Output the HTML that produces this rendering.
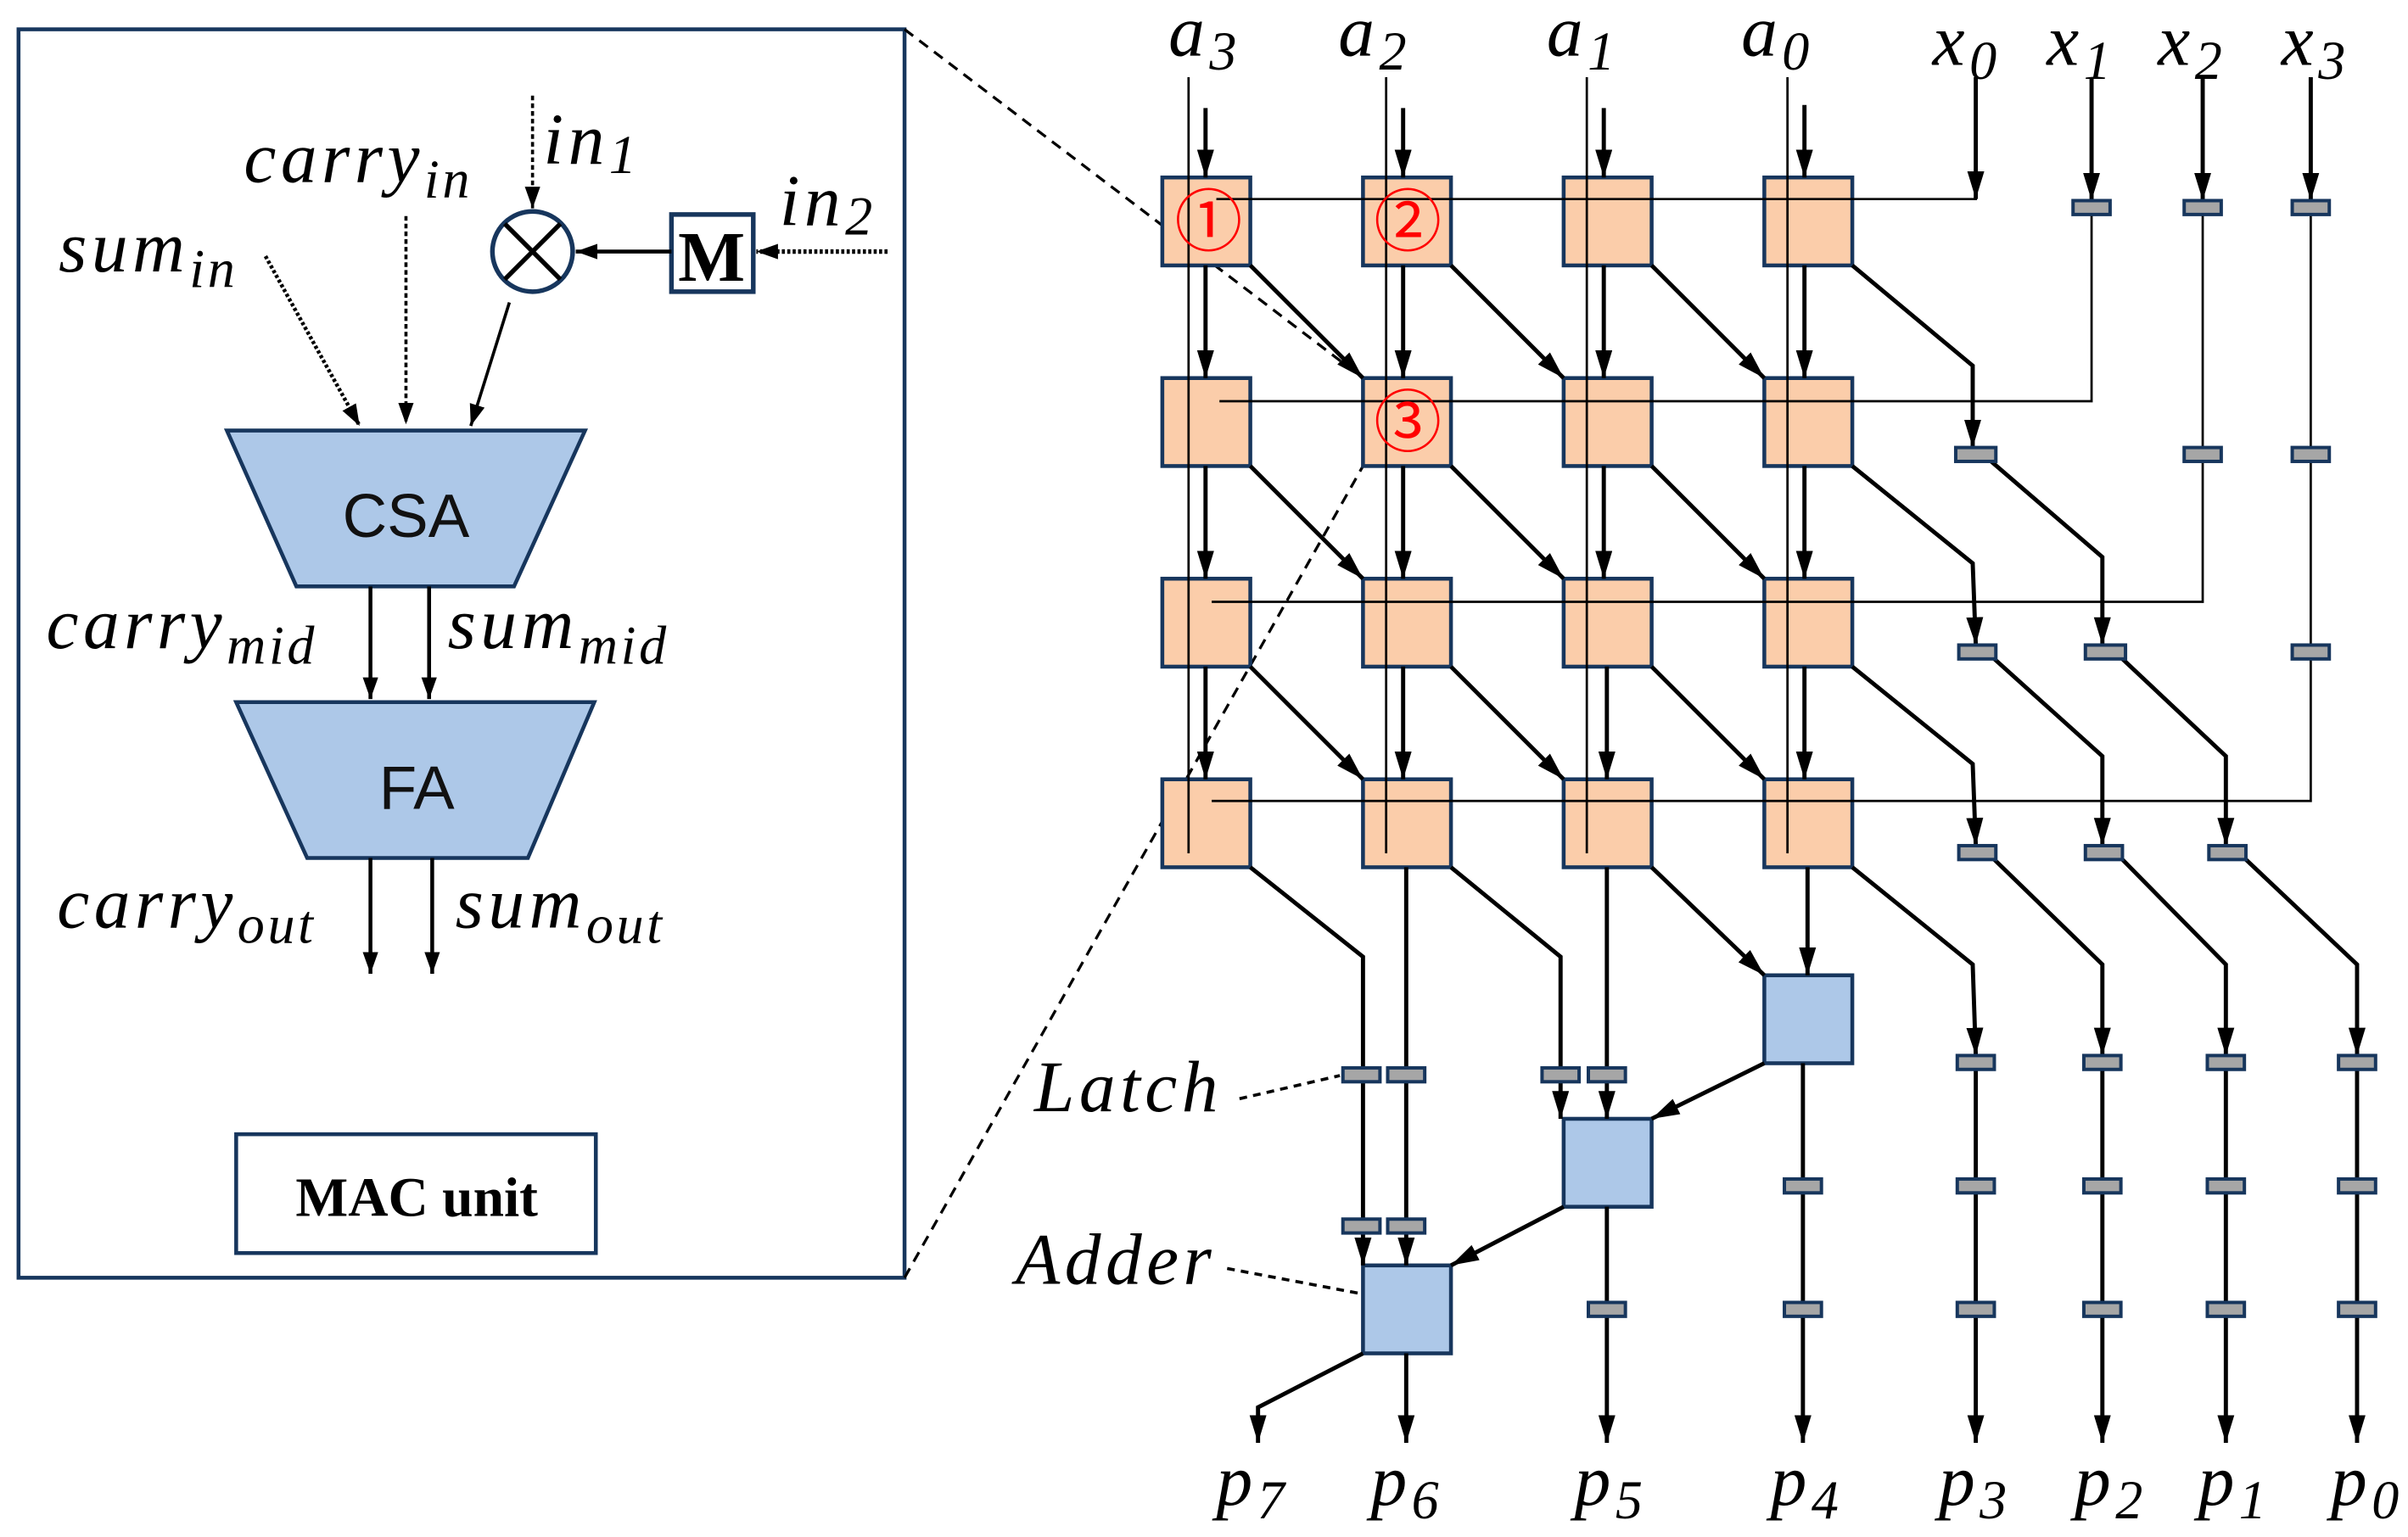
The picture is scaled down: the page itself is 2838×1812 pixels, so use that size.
<!DOCTYPE html>
<html><head><meta charset="utf-8"><style>
html,body{margin:0;padding:0;background:#fff;}
svg{display:block;}
.it{font-family:"Liberation Serif",serif;font-style:italic;letter-spacing:3px;}
.sub{font-size:0.75em;letter-spacing:2px;}
</style></head><body>
<svg width="2838" height="1812" viewBox="0 0 1560 996" preserveAspectRatio="none" xmlns="http://www.w3.org/2000/svg">
<defs>
<marker id="a" markerUnits="userSpaceOnUse" markerWidth="20" markerHeight="12" refX="18" refY="5.5" orient="auto"><path d="M0,0 L18,5.5 L0,11 z" fill="#000"/></marker>
<marker id="b" markerUnits="userSpaceOnUse" markerWidth="16" markerHeight="12" refX="14" refY="5" orient="auto"><path d="M0,0 L14,5 L0,10 z" fill="#000"/></marker>
</defs>

<rect x="12" y="19" width="574" height="809" fill="none" stroke="#17365d" stroke-width="2.5"/>
<line x1="586" y1="19" x2="883" y2="245" stroke="#000" stroke-width="1.8" stroke-dasharray="7,5"/>
<line x1="586" y1="828" x2="883" y2="302" stroke="#000" stroke-width="1.8" stroke-dasharray="7,5"/>

<text class="it" x="38" y="176" font-size="47">sum<tspan class="sub" dy="10">in</tspan></text>
<text class="it" x="158" y="118" font-size="47">carry<tspan class="sub" dy="10">in</tspan></text>
<text class="it" x="352" y="106" font-size="47">in<tspan class="sub" dy="6">1</tspan></text>
<text class="it" x="505" y="146" font-size="47">in<tspan class="sub" dy="6">2</tspan></text>

<line x1="345" y1="62" x2="345" y2="135" stroke="#000" stroke-width="2" stroke-dasharray="3,2" marker-end="url(#b)"/>
<circle cx="345" cy="163" r="26" fill="#fff" stroke="#17365d" stroke-width="3"/>
<line x1="327" y1="145" x2="363" y2="181" stroke="#000" stroke-width="3"/>
<line x1="363" y1="145" x2="327" y2="181" stroke="#000" stroke-width="3"/>
<rect x="435" y="139" width="53" height="50" fill="#fff" stroke="#17365d" stroke-width="3"/>
<text x="461" y="182" font-family="Liberation Serif,serif" font-weight="bold" font-size="46" text-anchor="middle">M</text>
<line x1="435" y1="163" x2="373" y2="163" stroke="#000" stroke-width="2.5" marker-end="url(#b)"/>
<line x1="575" y1="163" x2="490" y2="163" stroke="#000" stroke-width="3" stroke-dasharray="2,1.5" marker-end="url(#b)"/>
<line x1="172" y1="166" x2="233" y2="276" stroke="#000" stroke-width="2.5" stroke-dasharray="2,1.5" marker-end="url(#b)"/>
<line x1="263" y1="140" x2="263" y2="275" stroke="#000" stroke-width="2" stroke-dasharray="3,2" marker-end="url(#b)"/>
<line x1="330" y1="196" x2="305" y2="276" stroke="#000" stroke-width="2" marker-end="url(#b)"/>

<polygon points="147,279 379,279 333,380 192,380" fill="#adc8e8" stroke="#17365d" stroke-width="2.5"/>
<text x="263" y="348" font-family="Liberation Sans,sans-serif" font-size="40" text-anchor="middle" fill="#111">CSA</text>
<line x1="240" y1="380" x2="240" y2="453" stroke="#000" stroke-width="2.5" marker-end="url(#b)"/>
<line x1="278" y1="380" x2="278" y2="453" stroke="#000" stroke-width="2.5" marker-end="url(#b)"/>
<text class="it" x="30" y="420" font-size="47">carry<tspan class="sub" dy="10">mid</tspan></text>
<text class="it" x="290" y="420" font-size="47">sum<tspan class="sub" dy="10">mid</tspan></text>
<polygon points="153,455 385,455 342,556 199,556" fill="#adc8e8" stroke="#17365d" stroke-width="2.5"/>
<text x="270" y="524" font-family="Liberation Sans,sans-serif" font-size="40" text-anchor="middle" fill="#111">FA</text>
<line x1="240" y1="556" x2="240" y2="631" stroke="#000" stroke-width="2.5" marker-end="url(#b)"/>
<line x1="280" y1="556" x2="280" y2="631" stroke="#000" stroke-width="2.5" marker-end="url(#b)"/>
<text class="it" x="37" y="601" font-size="47">carry<tspan class="sub" dy="10">out</tspan></text>
<text class="it" x="295" y="601" font-size="47">sum<tspan class="sub" dy="10">out</tspan></text>
<rect x="153" y="735" width="233" height="77" fill="#fff" stroke="#17365d" stroke-width="2.5"/>
<text x="270" y="788" font-family="Liberation Serif,serif" font-weight="bold" font-size="36" text-anchor="middle">MAC unit</text>

<g class="it" font-size="47">
<text x="757" y="36">a<tspan class="sub" dy="9">3</tspan></text>
<text x="867" y="36">a<tspan class="sub" dy="9">2</tspan></text>
<text x="1002" y="36">a<tspan class="sub" dy="9">1</tspan></text>
<text x="1128" y="36">a<tspan class="sub" dy="9">0</tspan></text>
<text x="1252" y="42">x<tspan class="sub" dy="9">0</tspan></text>
<text x="1326" y="42">x<tspan class="sub" dy="9">1</tspan></text>
<text x="1398" y="42">x<tspan class="sub" dy="9">2</tspan></text>
<text x="1478" y="42">x<tspan class="sub" dy="9">3</tspan></text>
</g>

<g fill="#fbcdaa" stroke="#17365d" stroke-width="2.5">
<rect x="753" y="115" width="57" height="57"/><rect x="883" y="115" width="57" height="57"/><rect x="1013" y="115" width="57" height="57"/><rect x="1143" y="115" width="57" height="57"/>
<rect x="753" y="245" width="57" height="57"/><rect x="883" y="245" width="57" height="57"/><rect x="1013" y="245" width="57" height="57"/><rect x="1143" y="245" width="57" height="57"/>
<rect x="753" y="375" width="57" height="57"/><rect x="883" y="375" width="57" height="57"/><rect x="1013" y="375" width="57" height="57"/><rect x="1143" y="375" width="57" height="57"/>
<rect x="753" y="505" width="57" height="57"/><rect x="883" y="505" width="57" height="57"/><rect x="1013" y="505" width="57" height="57"/><rect x="1143" y="505" width="57" height="57"/>
</g>
<g fill="#adc8e8" stroke="#17365d" stroke-width="2.5">
<rect x="1143" y="632" width="57" height="57"/>
<rect x="1013" y="725" width="57" height="57"/>
<rect x="883" y="820" width="57" height="57"/>
</g>

<g stroke="#000" stroke-width="1.5">
<line x1="770" y1="50" x2="770" y2="553"/><line x1="898" y1="50" x2="898" y2="553"/>
<line x1="1028" y1="50" x2="1028" y2="553"/><line x1="1158" y1="50" x2="1158" y2="553"/>
<polyline points="1280,50 1280,129 788,129" fill="none"/>
<polyline points="1355,139 1355,260 790,260" fill="none"/>
<polyline points="1427,299 1427,390 785,390" fill="none"/>
<polyline points="1497,427 1497,519 785,519" fill="none"/>
<line x1="1427" y1="139" x2="1427" y2="290"/>
<line x1="1497" y1="139" x2="1497" y2="290"/>
<line x1="1497" y1="299" x2="1497" y2="418"/>
</g>

<g stroke="#000" stroke-width="2.7" fill="none" marker-end="url(#a)">
<line x1="781" y1="70" x2="781" y2="115"/><line x1="909" y1="70" x2="909" y2="115"/><line x1="1039" y1="70" x2="1039" y2="115"/><line x1="1169" y1="68" x2="1169" y2="115"/>
<line x1="781" y1="172" x2="781" y2="245"/><line x1="909" y1="172" x2="909" y2="245"/><line x1="1039" y1="172" x2="1039" y2="245"/><line x1="1169" y1="172" x2="1169" y2="245"/>
<line x1="781" y1="302" x2="781" y2="375"/><line x1="909" y1="302" x2="909" y2="375"/><line x1="1039" y1="302" x2="1039" y2="375"/><line x1="1169" y1="302" x2="1169" y2="375"/>
<line x1="781" y1="432" x2="781" y2="505"/><line x1="909" y1="432" x2="909" y2="505"/><line x1="1041" y1="432" x2="1041" y2="505"/><line x1="1169" y1="432" x2="1169" y2="505"/>
<line x1="810" y1="172" x2="883" y2="245"/><line x1="940" y1="172" x2="1013" y2="245"/><line x1="1070" y1="172" x2="1143" y2="245"/>
<line x1="810" y1="302" x2="883" y2="375"/><line x1="940" y1="302" x2="1013" y2="375"/><line x1="1070" y1="302" x2="1143" y2="375"/>
<line x1="810" y1="432" x2="883" y2="505"/><line x1="940" y1="432" x2="1013" y2="505"/><line x1="1070" y1="432" x2="1143" y2="505"/>
<line x1="1280" y1="50" x2="1280" y2="129"/>
<line x1="1355" y1="50" x2="1355" y2="130"/><line x1="1427" y1="50" x2="1427" y2="130"/><line x1="1497" y1="50" x2="1497" y2="130"/>
<polyline points="1200,172 1278,237 1278,290"/>
<polyline points="1200,302 1278,365 1280,418"/>
<polyline points="1290,299 1362,361 1362,418"/>
<polyline points="1200,432 1278,495 1280,548"/>
<polyline points="1292,427 1362,490 1362,548"/>
<polyline points="1375,427 1442,490 1442,548"/>
<polyline points="1200,562 1278,625 1280,684"/>
<polyline points="1292,557 1362,625 1362,684"/>
<polyline points="1375,557 1442,625 1442,684"/>
<polyline points="1455,557 1527,625 1527,684"/>
<line x1="1280" y1="693" x2="1280" y2="935"/><line x1="1362" y1="693" x2="1362" y2="935"/>
<line x1="1442" y1="693" x2="1442" y2="935"/><line x1="1527" y1="693" x2="1527" y2="935"/>
<line x1="1168" y1="689" x2="1168" y2="935"/>
<line x1="1041" y1="782" x2="1041" y2="935"/>
<line x1="911" y1="877" x2="911" y2="935"/>
<polyline points="883,877 815,912 815,935"/>
<line x1="1143" y1="689" x2="1070" y2="725"/>
<line x1="1013" y1="782" x2="940" y2="820"/>
<line x1="1070" y1="562" x2="1143" y2="632"/>
<line x1="1171" y1="562" x2="1171" y2="632"/>
<line x1="1011" y1="701" x2="1011" y2="725"/><line x1="1041" y1="701" x2="1041" y2="725"/>
<line x1="883" y1="799" x2="883" y2="820"/><line x1="911" y1="799" x2="911" y2="820"/>
</g>
<g stroke="#000" stroke-width="2.7" fill="none">
<polyline points="810,562 883,620 883,795"/>
<line x1="911" y1="562" x2="911" y2="795"/>
<polyline points="940,562 1011,620 1011,697"/>
<line x1="1041" y1="562" x2="1041" y2="697"/>
</g>

<g fill="#a6a6a6" stroke="#17365d" stroke-width="2.2">
<rect x="1343" y="130" width="24" height="9"/><rect x="1415" y="130" width="24" height="9"/><rect x="1485" y="130" width="24" height="9"/>
<rect x="1267" y="290" width="26" height="9"/><rect x="1415" y="290" width="24" height="9"/><rect x="1485" y="290" width="24" height="9"/>
<rect x="1269" y="418" width="24" height="9"/><rect x="1351" y="418" width="26" height="9"/><rect x="1485" y="418" width="24" height="9"/>
<rect x="1269" y="548" width="24" height="9"/><rect x="1351" y="548" width="24" height="9"/><rect x="1431" y="548" width="24" height="9"/>
<rect x="1268" y="684" width="24" height="9"/><rect x="1350" y="684" width="24" height="9"/><rect x="1430" y="684" width="24" height="9"/><rect x="1515" y="684" width="24" height="9"/>
<rect x="1268" y="764" width="24" height="9"/><rect x="1350" y="764" width="24" height="9"/><rect x="1430" y="764" width="24" height="9"/><rect x="1515" y="764" width="24" height="9"/><rect x="1156" y="764" width="24" height="9"/>
<rect x="1268" y="844" width="24" height="9"/><rect x="1350" y="844" width="24" height="9"/><rect x="1430" y="844" width="24" height="9"/><rect x="1515" y="844" width="24" height="9"/><rect x="1156" y="844" width="24" height="9"/><rect x="1029" y="844" width="24" height="9"/>
<rect x="870" y="692" width="24" height="9"/><rect x="899" y="692" width="24" height="9"/><rect x="999" y="692" width="24" height="9"/><rect x="1029" y="692" width="24" height="9"/>
<rect x="870" y="790" width="24" height="9"/><rect x="899" y="790" width="24" height="9"/>
</g>

<g font-family="Noto Sans CJK JP,sans-serif" font-size="44" fill="#f00" text-anchor="middle">
<text x="783" y="159">①</text><text x="912" y="159">②</text><text x="912" y="289">③</text>
</g>

<text class="it" x="670" y="720" font-size="47">Latch</text>
<line x1="803" y1="712" x2="868" y2="697" stroke="#000" stroke-width="2" stroke-dasharray="5,4"/>
<text class="it" x="658" y="832" font-size="47">Adder</text>
<line x1="795" y1="822" x2="880" y2="838" stroke="#000" stroke-width="2" stroke-dasharray="5,4"/>

<g class="it" font-size="47">
<text x="788" y="975">p<tspan class="sub" dy="9">7</tspan></text>
<text x="888" y="975">p<tspan class="sub" dy="9">6</tspan></text>
<text x="1020" y="975">p<tspan class="sub" dy="9">5</tspan></text>
<text x="1147" y="975">p<tspan class="sub" dy="9">4</tspan></text>
<text x="1256" y="975">p<tspan class="sub" dy="9">3</tspan></text>
<text x="1344" y="975">p<tspan class="sub" dy="9">2</tspan></text>
<text x="1424" y="975">p<tspan class="sub" dy="9">1</tspan></text>
<text x="1510" y="975">p<tspan class="sub" dy="9">0</tspan></text>
</g>
</svg>
</body></html>
